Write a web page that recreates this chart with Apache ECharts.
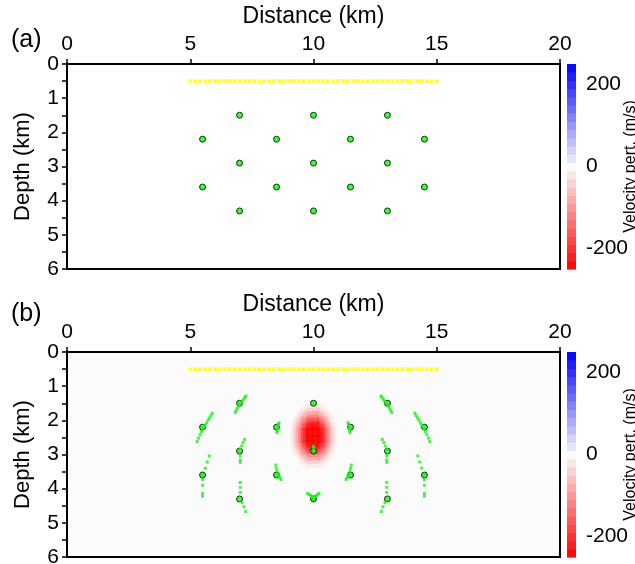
<!DOCTYPE html>
<html><head><meta charset="utf-8">
<script src="https://cdn.jsdelivr.net/npm/echarts@6/dist/echarts.min.js"></script>
<style>html,body{margin:0;padding:0;background:#fff}#c{width:635px;height:564px}</style>
</head><body><div id="c"></div>
<script>
// ---------- data ----------
const xTickValues = [0, 5, 10, 15, 20];
const depthTickValues = [0, 1, 2, 3, 4, 5, 6];
const cbarTickValues = [-200, 0, 200];
const cbarRange = [-250, 250];

// receivers (yellow) at 0.5 km depth, every 0.2 km from 5 to 15 km
const receiverX = [5.0,5.2,5.4,5.6,5.8,6.0,6.2,6.4,6.6,6.8,7.0,7.2,7.4,7.6,7.8,8.0,8.2,8.4,8.6,8.8,
  9.0,9.2,9.4,9.6,9.8,10.0,10.2,10.4,10.6,10.8,11.0,11.2,11.4,11.6,11.8,12.0,12.2,12.4,12.6,12.8,
  13.0,13.2,13.4,13.6,13.8,14.0,14.2,14.4,14.6,14.8,15.0];
const receiverDepth = 0.5;

// true sources (green, black outline)
const sourceX = [7, 10, 13, 5.5, 8.5, 11.5, 14.5, 7, 10, 13, 5.5, 8.5, 11.5, 14.5, 7, 10, 13];
const sourceZ = [1.5, 1.5, 1.5, 2.2, 2.2, 2.2, 2.2, 2.9, 2.9, 2.9, 3.6, 3.6, 3.6, 3.6, 4.3, 4.3, 4.3];

// relocated events in panel (b)
const relocX = [
  7.26,7.22,7.17,7.12,7.07,7.02,6.98,6.94,6.90,6.86,6.82,
  5.89,5.84,5.78,5.72,5.66,5.60,5.52,5.46,5.40,5.33,5.28,
  5.77,5.69,5.61,5.50,5.50,5.50,5.50,5.50,
  7.21,7.14,7.09,7.03,7.03,7.03,7.03,
  7.03,7.03,7.03,7.10,7.18,7.25,
  8.60,8.58,8.56,8.54,8.53,8.52,
  8.47,8.49,8.52,8.56,8.60,8.64,8.68,
  10.00,10.01,10.02,
  9.76,9.82,9.88,9.94,10.00,10.06,10.12,10.18,10.22,10.00,
  12.74,12.78,12.83,12.88,12.93,12.98,13.02,13.06,13.10,13.14,13.18,
  14.11,14.16,14.22,14.28,14.34,14.40,14.48,14.54,14.60,14.67,14.72,
  14.23,14.31,14.39,14.50,14.50,14.50,14.50,14.50,
  12.79,12.86,12.91,12.97,12.97,12.97,12.97,
  12.97,12.97,12.97,12.90,12.82,12.75,
  11.40,11.42,11.44,11.46,11.47,11.48,
  11.53,11.51,11.48,11.44,11.40,11.36,11.32];
const relocZ = [
  1.29,1.33,1.38,1.43,1.47,1.51,1.56,1.61,1.66,1.72,1.77,
  1.79,1.86,1.93,2.00,2.08,2.15,2.24,2.33,2.42,2.52,2.62,
  3.04,3.22,3.40,3.59,3.73,3.90,4.14,4.22,
  2.56,2.65,2.75,2.85,3.04,3.16,3.23,
  3.82,3.96,4.11,4.41,4.53,4.67,
  2.07,2.12,2.18,2.24,2.30,2.36,
  3.31,3.40,3.48,3.57,3.63,3.68,3.73,
  2.76,2.82,2.88,
  4.14,4.17,4.20,4.23,4.26,4.23,4.20,4.17,4.14,4.30,
  1.29,1.33,1.38,1.43,1.47,1.51,1.56,1.61,1.66,1.72,1.77,
  1.79,1.86,1.93,2.00,2.08,2.15,2.24,2.33,2.42,2.52,2.62,
  3.04,3.22,3.40,3.59,3.73,3.90,4.14,4.22,
  2.56,2.65,2.75,2.85,3.04,3.16,3.23,
  3.82,3.96,4.11,4.41,4.53,4.67,
  2.07,2.12,2.18,2.24,2.30,2.36,
  3.31,3.40,3.48,3.57,3.63,3.68,3.73];

// low-velocity anomaly in panel (b): centre and radial profile (m/s) every 0.1 km
const blobCenterX = 10.0;
const blobCenterZ = 2.45;
const blobRadius = [0.0, 0.1, 0.2, 0.3, 0.4, 0.5, 0.6, 0.7, 0.8, 0.9, 1.0];
const blobValue = [-250, -250, -250, -245, -215, -170, -120, -78, -42, -16, 0];

// ---------- build series data ----------
const receivers = receiverX.map(x => [x, receiverDepth]);
const sources = sourceX.map((x, i) => [x, sourceZ[i]]);
const relocated = relocX.map((x, i) => [x, relocZ[i]]);
const cellStep = 0.05;
const blobCells = [];
for (let i = -20; i <= 20; i++) {
  for (let j = -20; j <= 20; j++) {
    const dx = i * cellStep, dz = j * cellStep;
    const r = Math.sqrt(dx * dx + dz * dz);
    const k = Math.round(r / 0.1);
    if (k < blobValue.length - 1) blobCells.push([blobCenterX + dx, blobCenterZ + dz, blobValue[k]]);
  }
}
const cbarBands = [];
for (let v = cbarRange[0]; v < cbarRange[1]; v += 20) cbarBands.push([v, Math.min(v + 20, cbarRange[1]), v + 10]);

const FONT = 'Liberation Sans';
const G = [
  {left: 67, top: 64, width: 493, height: 205},
  {left: 567, top: 64, width: 9, height: 205},
  {left: 67, top: 352, width: 493, height: 205},
  {left: 567, top: 352, width: 9, height: 205}
];

function mainX(gi) {
  return {
    type: 'value', gridIndex: gi, position: 'top', min: 0, max: 20, interval: 5,
    name: 'Distance (km)', nameLocation: 'middle', nameGap: 36,
    nameTextStyle: {fontSize: 23, color: '#000', fontFamily: FONT},
    axisLine: {show: true, onZero: false, lineStyle: {color: '#000', width: 2}},
    axisTick: {show: true, length: 5, lineStyle: {color: '#000', width: 1.5}},
    axisLabel: {fontSize: 21, color: '#000', fontFamily: FONT, margin: 9,
      customValues: xTickValues},
    splitLine: {show: false}
  };
}
function mainY(gi) {
  return {
    type: 'value', gridIndex: gi, inverse: true, min: 0, max: 6, interval: 1,
    name: 'Depth (km)', nameLocation: 'middle', nameGap: 33, nameRotate: 90,
    nameTextStyle: {fontSize: 22, color: '#000', fontFamily: FONT},
    axisLine: {show: true, onZero: false, lineStyle: {color: '#000', width: 2}},
    axisTick: {show: true, length: 5, lineStyle: {color: '#000', width: 1.5}},
    minorTick: {show: true, splitNumber: 2, length: 5, lineStyle: {color: '#000', width: 1.5}},
    axisLabel: {fontSize: 21, color: '#000', fontFamily: FONT, margin: 8,
      customValues: depthTickValues},
    splitLine: {show: false}
  };
}
function cbarX(gi) {
  return {type: 'value', gridIndex: gi, min: 0, max: 1, show: false};
}
function cbarY(gi) {
  return {
    type: 'value', gridIndex: gi, position: 'right', min: cbarRange[0], max: cbarRange[1],
    name: 'Velocity pert. (m/s)', nameLocation: 'middle', nameGap: 47, nameRotate: 90,
    nameMoveOverlap: false,
    nameTextStyle: {fontSize: 16, color: '#000', fontFamily: FONT},
    axisLine: {show: false},
    axisTick: {show: true, length: 4, customValues: cbarTickValues, lineStyle: {color: '#000', width: 1}},
    axisLabel: {fontSize: 21, color: '#000', fontFamily: FONT, margin: 10, customValues: cbarTickValues},
    splitLine: {show: false}
  };
}

function cbarSeries(ai) {
  return {
    type: 'custom', xAxisIndex: ai, yAxisIndex: ai, data: cbarBands, silent: true,
    renderItem: function (params, api) {
      const cs = params.coordSys;
      const pLo = api.coord([0, api.value(0)]);
      const pHi = api.coord([0, api.value(1)]);
      return {type: 'rect', shape: {x: cs.x, y: pHi[1], width: cs.width, height: pLo[1] - pHi[1] + 0.6},
        style: {fill: api.visual('color')}};
    }
  };
}

const option = {
  animation: false,
  backgroundColor: '#fff',
  grid: [
    Object.assign({show: true, borderColor: '#000', borderWidth: 2, backgroundColor: '#fff', outerBoundsMode: 'none', containLabel: false}, G[0]),
    Object.assign({show: false, outerBoundsMode: 'none', containLabel: false}, G[1]),
    Object.assign({show: true, borderColor: '#000', borderWidth: 2, backgroundColor: '#fbfbfb', outerBoundsMode: 'none', containLabel: false}, G[2]),
    Object.assign({show: false, outerBoundsMode: 'none', containLabel: false}, G[3])
  ],
  xAxis: [mainX(0), cbarX(1), mainX(2), cbarX(3)],
  yAxis: [mainY(0), cbarY(1), mainY(2), cbarY(3)],
  visualMap: [{
    type: 'continuous', show: false, min: cbarRange[0], max: cbarRange[1], dimension: 2,
    seriesIndex: [0, 1, 2], inRange: {color: ['#ff0000', '#fbfbfb', '#0000ff']}
  }],
  graphic: [
    {type: 'text', left: 11, top: 28, style: {text: '(a)', fontSize: 25, fontFamily: FONT, fill: '#000'}},
    {type: 'text', left: 11, top: 302, style: {text: '(b)', fontSize: 25, fontFamily: FONT, fill: '#000'}}
  ],
  series: [
    {
      type: 'custom', xAxisIndex: 2, yAxisIndex: 2, data: blobCells, silent: true, z: 1,
      renderItem: function (params, api) {
        const c = api.coord([api.value(0), api.value(1)]);
        const s = api.size([cellStep, cellStep]);
        return {type: 'rect', shape: {x: c[0] - s[0] / 2, y: c[1] - s[1] / 2, width: s[0] + 0.4, height: s[1] + 0.4},
          style: {fill: api.visual('color')}};
      }
    },
    cbarSeries(1),
    cbarSeries(3),
    {type: 'scatter', xAxisIndex: 0, yAxisIndex: 0, data: receivers, symbol: 'rect', symbolSize: [4, 3.5],
      itemStyle: {color: '#ffff00'}, z: 3, silent: true},
    {type: 'scatter', xAxisIndex: 0, yAxisIndex: 0, data: sources, symbol: 'circle', symbolSize: 6,
      itemStyle: {color: '#00ff00', borderColor: '#000', borderWidth: 1}, z: 5, silent: true},
    {type: 'scatter', xAxisIndex: 2, yAxisIndex: 2, data: receivers, symbol: 'rect', symbolSize: [4, 3.5],
      itemStyle: {color: '#ffff00'}, z: 3, silent: true},
    {type: 'scatter', xAxisIndex: 2, yAxisIndex: 2, data: sources, symbol: 'circle', symbolSize: 6,
      itemStyle: {color: '#00ff00', borderColor: '#000', borderWidth: 1}, z: 4, silent: true},
    {type: 'scatter', xAxisIndex: 2, yAxisIndex: 2, data: relocated, symbol: 'rect', symbolSize: 3,
      itemStyle: {color: '#22ee22'}, z: 5, silent: true}
  ]
};
const chart = echarts.init(document.getElementById('c'), null, {renderer: 'canvas'});
chart.setOption(option);
</script></body></html>
